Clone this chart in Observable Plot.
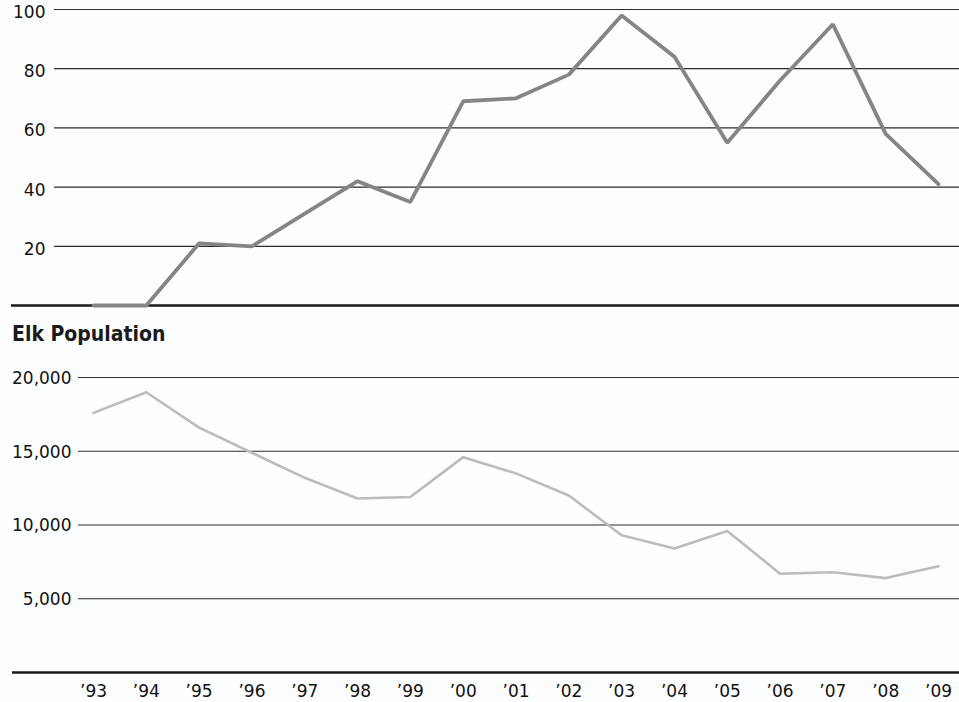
<!DOCTYPE html>
<html>
<head>
<meta charset="utf-8">
<script src="https://cdn.jsdelivr.net/npm/d3@7"></script>
<script src="https://cdn.jsdelivr.net/npm/@observablehq/plot@0.6"></script>
<style>
  html, body { margin: 0; padding: 0; background: #fcfdfe; }
  #wrap { position: relative; width: 959px; height: 702px; overflow: hidden; }
  #top { position: absolute; left: 0; top: 0; }
  #title { position: absolute; left: 12px; top: 324px; font-family: "DejaVu Sans Condensed", "DejaVu Sans", sans-serif; font-stretch: condensed; font-weight: bold; font-size: 21px; line-height: 21px; color: #1a1a1a; white-space: nowrap; }
  #bottom { position: absolute; left: 0; top: 348px; }
  svg { font-family: "DejaVu Sans", sans-serif; }
</style>
</head>
<body>
<div id="wrap">
  <div id="top"></div>
  <div id="title">Elk Population</div>
  <div id="bottom"></div>
</div>
<script>
const years = [1993, 1994, 1995, 1996, 1997, 1998, 1999, 2000, 2001, 2002, 2003, 2004, 2005, 2006, 2007, 2008, 2009];
const yearLabels = ["’93", "’94", "’95", "’96", "’97", "’98", "’99", "’00", "’01", "’02", "’03", "’04", "’05", "’06", "’07", "’08", "’09"];
const wolves = [0, 0, 21, 20, 31, 42, 35, 69, 70, 78, 98, 84, 55, 76, 95, 58, 41];
const elk = [17600, 19000, 16600, 14900, 13200, 11800, 11900, 14600, 13500, 12000, 9300, 8400, 9600, 6700, 6800, 6400, 7200];
const wolfTicks = [20, 40, 60, 80, 100];
const elkTicks = [5000, 10000, 15000, 20000];

const wolfData = years.map((y, i) => ({year: y, value: wolves[i]}));
const elkData = years.map((y, i) => ({year: y, value: elk[i]}));

const W = 959;
const xRange = [93, 938];

const topPlot = Plot.plot({
  width: W,
  height: 320,
  marginLeft: 11,
  marginRight: 0,
  marginTop: 9,
  marginBottom: 15,
  style: {background: "transparent", fontSize: "17px", color: "#1a1a1a"},
  x: {domain: [1993, 2009], range: xRange, axis: null},
  y: {domain: [0, 100], axis: null},
  marks: [
    Plot.ruleY(wolfTicks, {stroke: "#2b2b2b", strokeWidth: 1.2, insetLeft: 43}),
    Plot.ruleY([0], {stroke: "#1a1a1a", strokeWidth: 2.6}),
    Plot.axisY(wolfTicks, {label: null, tickSize: 0, tickPadding: 0, dx: 34, dy: 3, fontSize: 17, fill: "#111"}),
    Plot.line(wolfData, {x: "year", y: "value", stroke: "#858585", strokeWidth: 3.8, strokeLinejoin: "miter"})
  ]
});
document.getElementById("top").appendChild(topPlot);

const bottomPlot = Plot.plot({
  width: W,
  height: 354,
  marginLeft: 12,
  marginRight: 0,
  marginTop: 29,
  marginBottom: 30,
  style: {background: "transparent", fontSize: "17px", color: "#1a1a1a"},
  x: {domain: [1993, 2009], range: xRange, axis: null},
  y: {domain: [0, 20000], axis: null},
  marks: [
    Plot.ruleY(elkTicks, {stroke: "#2b2b2b", strokeWidth: 1.2, insetLeft: 66}),
    Plot.ruleY([0], {stroke: "#1a1a1a", strokeWidth: 2.6}),
    Plot.axisY(elkTicks, {label: null, tickSize: 0, tickPadding: 0, dx: 59, dy: 1, fontSize: 17, fill: "#111", tickFormat: d3.format(",")}),
    Plot.axisX(years, {label: null, tickSize: 0, tickPadding: 12, fontSize: 17, fill: "#111", tickFormat: (d) => yearLabels[years.indexOf(d)]}),
    Plot.line(elkData, {x: "year", y: "value", stroke: "#bcbcbc", strokeWidth: 2.6})
  ]
});
document.getElementById("bottom").appendChild(bottomPlot);
</script>
</body>
</html>
